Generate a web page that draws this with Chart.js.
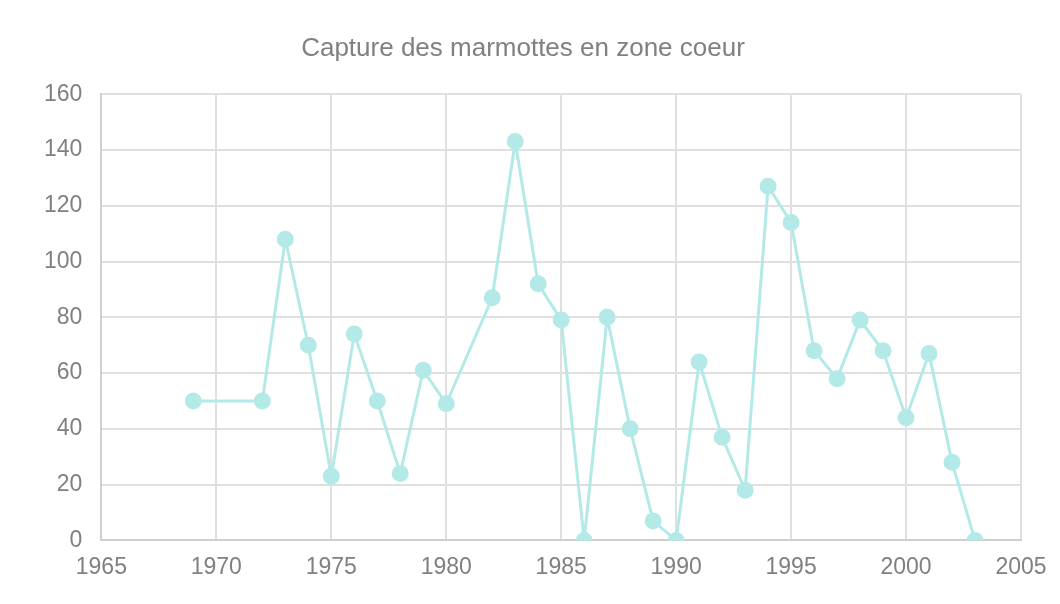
<!DOCTYPE html>
<html>
<head>
<meta charset="utf-8">
<script src="https://cdn.jsdelivr.net/npm/chart.js@4"></script>
<style>
  html, body { margin: 0; padding: 0; background: #fff; }
</style>
</head>
<body>
<canvas id="chart" width="1060" height="604"></canvas>
<script>
// données
const years = [1969, 1972, 1973, 1974, 1975, 1976, 1977, 1978, 1979, 1980,
  1982, 1983, 1984, 1985, 1986, 1987, 1988, 1989, 1990, 1991, 1992, 1993,
  1994, 1995, 1996, 1997, 1998, 1999, 2000, 2001, 2002, 2003];
const captures = [50, 50, 108, 70, 23, 74, 50, 24, 61, 49,
  87, 143, 92, 79, 0, 80, 40, 7, 0, 64, 37, 18,
  127, 114, 68, 58, 79, 68, 44, 67, 28, 0];
const xTicks = [1965, 1970, 1975, 1980, 1985, 1990, 1995, 2000, 2005];
const yTicks = [0, 20, 40, 60, 80, 100, 120, 140, 160];

const points = years.map((y, i) => ({ x: y, y: captures[i] }));
const lineColor = "#b3eae8";
const textColor = "#808080";
const fontFamily = "'Liberation Sans', Arial, sans-serif";

new Chart(document.getElementById("chart"), {
  type: "line",
  data: {
    datasets: [{
      label: "Captures",
      data: points,
      borderColor: lineColor,
      backgroundColor: lineColor,
      pointBackgroundColor: lineColor,
      pointBorderColor: lineColor,
      borderWidth: 3,
      pointRadius: 7,
      tension: 0
    }]
  },
  options: {
    responsive: false,
    animation: false,
    devicePixelRatio: 1,
    layout: { padding: { left: 25, right: 39, top: 0, bottom: 10 } },
    plugins: {
      legend: { display: false },
      tooltip: { enabled: false },
      title: {
        display: true,
        text: "Capture des marmottes en zone coeur",
        color: textColor,
        font: { family: fontFamily, size: 26, weight: "normal" },
        padding: { top: 33, bottom: 30 }
      }
    },
    scales: {
      x: {
        type: "linear",
        min: xTicks[0],
        max: xTicks[xTicks.length - 1],
        afterBuildTicks: (axis) => { axis.ticks = xTicks.map(v => ({ value: v })); },
        ticks: {
          color: textColor,
          font: { family: fontFamily, size: 23 },
          padding: 13,
          maxRotation: 0,
          autoSkip: false,
          callback: (v) => String(v)
        },
        grid: { color: "#e0e0e0", lineWidth: 2, drawTicks: false },
        border: { color: "#cfcfcf", width: 2 }
      },
      y: {
        min: yTicks[0],
        max: yTicks[yTicks.length - 1],
        afterBuildTicks: (axis) => { axis.ticks = yTicks.map(v => ({ value: v })); },
        ticks: {
          color: textColor,
          font: { family: fontFamily, size: 23 },
          padding: 19,
          autoSkip: false
        },
        grid: { color: "#e0e0e0", lineWidth: 2, drawTicks: false },
        border: { color: "#cfcfcf", width: 2 }
      }
    }
  }
});
</script>
</body>
</html>
